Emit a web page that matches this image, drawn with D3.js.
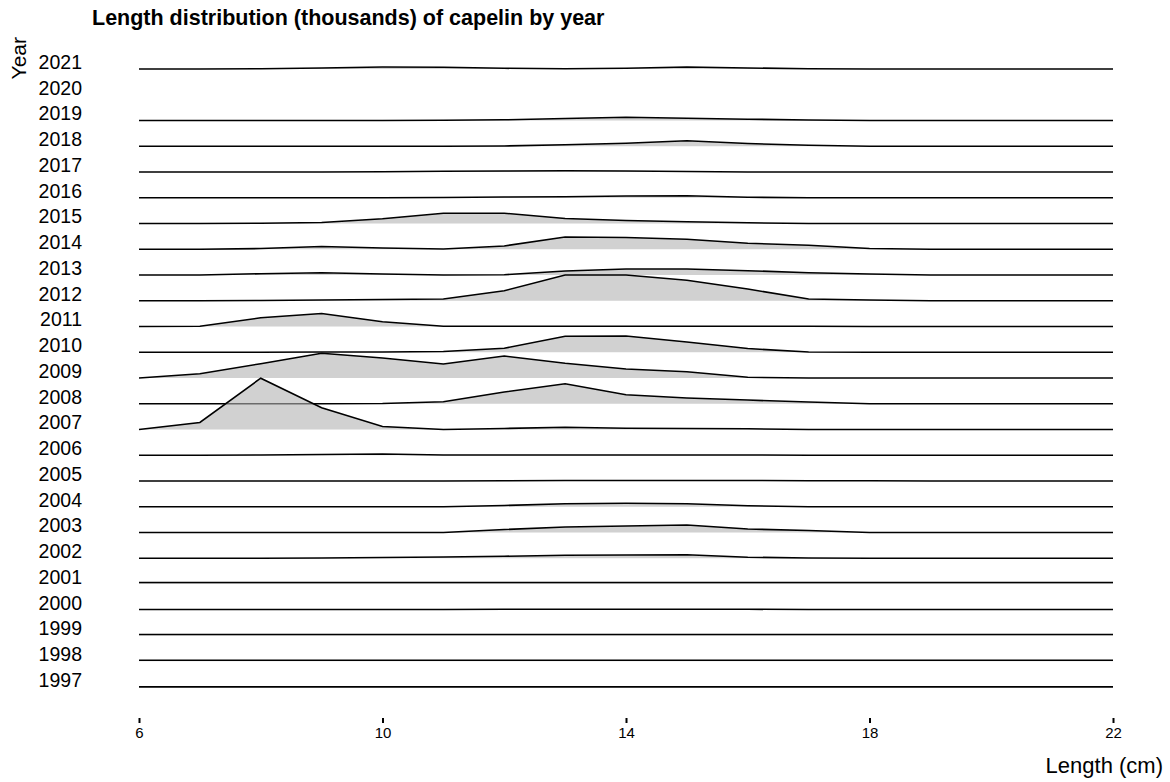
<!DOCTYPE html>
<html>
<head>
<meta charset="utf-8">
<script src="https://cdn.jsdelivr.net/npm/d3@7"></script>
<style>
  body { margin: 0; background: #fff; }
  svg text { font-family: "Liberation Sans", Arial, sans-serif; fill: #000; }
</style>
</head>
<body>
<svg id="chart" width="1170" height="782"></svg>
<script>
// lengths (cm) and years
var lengths = [6,7,8,9,10,11,12,13,14,15,16,17,18,19,20,21,22];
var years = [1997,1998,1999,2000,2001,2002,2003,2004,2005,2006,2007,2008,2009,2010,2011,2012,2013,2014,2015,2016,2017,2018,2019,2020,2021];
var xTicks = [6,10,14,18,22];

// numbers (thousands) per length class
var n1997 = [4,4,4,4,4,4,4,4,4,4,4,4,4,4,4,4,4];
var n1998 = [40,40,40,40,40,40,40,40,40,40,40,40,40,40,40,40,40];
var n1999 = [40,40,40,40,40,40,40,40,40,40,40,40,40,40,40,40,40];
var n2000 = [8,8,8,8,8,8,20,20,20,20,20,8,8,8,8,8,8];
var n2001 = [60,60,60,60,60,60,60,60,60,60,60,60,60,60,60,60,60];
var n2002 = [0,0,0,12,28,52,80,120,132,140,40,12,0,0,0,0,0];
var n2003 = [0,0,0,0,0,0,120,220,260,300,140,80,0,0,0,0,0];
var n2004 = [0,0,0,0,0,0,52,120,140,120,40,0,0,0,0,0,0];
var n2005 = [0,0,0,0,0,0,12,20,20,20,20,12,12,0,0,0,0];
var n2006 = [0,0,12,28,52,12,12,12,12,12,12,0,0,0,0,0,0];
var n2007 = [0,280,2052,868,120,0,40,92,52,40,28,0,0,0,0,0,0];
var n2008 = [0,0,0,0,12,80,468,800,360,228,148,68,0,0,0,0,0];
var n2009 = [0,172,572,988,800,560,880,588,360,252,28,0,0,0,0,0,0];
var n2010 = [0,0,0,12,12,28,160,640,652,412,148,12,0,0,0,0,0];
var n2011 = [0,12,348,520,188,12,12,12,12,12,12,12,0,0,0,0,0];
var n2012 = [0,0,12,28,52,68,400,1028,1028,820,468,68,28,0,0,0,0];
var n2013 = [0,0,52,92,40,0,12,160,240,240,172,92,40,0,0,0,0];
var n2014 = [0,0,28,108,52,12,132,492,468,400,240,160,28,0,0,0,0];
var n2015 = [0,0,12,40,188,412,412,200,120,68,28,0,0,0,0,0,0];
var n2016 = [0,0,0,0,0,12,28,40,68,80,20,0,0,0,0,0,0];
var n2017 = [0,0,0,0,12,28,40,52,40,20,0,0,0,0,0,0,0];
var n2018 = [0,0,0,0,0,0,12,60,120,220,108,40,0,0,0,0,0];
var n2019 = [0,0,0,0,0,12,28,80,132,92,52,20,0,0,0,0,0];
var n2020 = null; // no survey
var n2021 = [0,0,12,40,80,68,28,12,28,80,40,12,0,0,0,0,0];

var byYear = {
  1997:n1997, 1998:n1998, 1999:n1999, 2000:n2000, 2001:n2001, 2002:n2002,
  2003:n2003, 2004:n2004, 2005:n2005, 2006:n2006, 2007:n2007, 2008:n2008,
  2009:n2009, 2010:n2010, 2011:n2011, 2012:n2012, 2013:n2013, 2014:n2014,
  2015:n2015, 2016:n2016, 2017:n2017, 2018:n2018, 2019:n2019, 2020:n2020,
  2021:n2021
};

var svg = d3.select("#chart");

var x = d3.scaleLinear().domain([6,22]).range([139,1113]);
var y = d3.scalePoint().domain(years).range([687,69]);
var h = d3.scaleLinear().domain([0,2052]).range([0,51.3]);

// top rows first so lower ridges sit in front
var ridges = years.slice().reverse().filter(function(yr){ return byYear[yr]; });

var area = function(yr){
  return d3.area()
    .x(function(d,i){ return x(lengths[i]); })
    .y0(y(yr))
    .y1(function(d){ return y(yr) - h(d); });
};
var line = function(yr){
  return d3.line()
    .x(function(d,i){ return x(lengths[i]); })
    .y(function(d){ return y(yr) - h(d); });
};

var g = svg.append("g");
ridges.forEach(function(yr){
  g.append("path")
    .attr("d", area(yr)(byYear[yr]))
    .attr("fill","#b3b3b3")
    .attr("fill-opacity",0.6);
  g.append("path")
    .attr("d", line(yr)(byYear[yr]))
    .attr("fill","none")
    .attr("stroke","#000")
    .attr("stroke-width",1.6);
});

// year labels
svg.append("g").selectAll("text")
  .data(years)
  .enter().append("text")
  .text(function(d){ return d; })
  .attr("x",82)
  .attr("y",function(d){ return y(d) - 7; })
  .attr("dy","0.35em")
  .attr("text-anchor","end")
  .style("font-size","19.5px");

// x axis
var xAxis = svg.append("g")
  .attr("transform","translate(0,718)")
  .call(d3.axisBottom(x).tickValues(xTicks).tickSize(5).tickPadding(4));
xAxis.attr("font-size",null).attr("font-family",null);
xAxis.select(".domain").remove();
xAxis.selectAll(".tick line").attr("stroke","#000").attr("stroke-width",2);
xAxis.selectAll(".tick text")
  .style("font-size","15px")
  .attr("fill","#000");

svg.append("text")
  .text("Length (cm)")
  .attr("x",1163)
  .attr("y",773)
  .attr("text-anchor","end")
  .style("font-size","22px");

svg.append("text")
  .text("Year")
  .attr("transform","translate(26,37) rotate(-90)")
  .attr("text-anchor","end")
  .style("font-size","21px");

svg.append("text")
  .text("Length distribution (thousands) of capelin by year")
  .attr("x",92)
  .attr("y",25)
  .style("font-size","21.5px")
  .style("font-weight","bold");
</script>
</body>
</html>
